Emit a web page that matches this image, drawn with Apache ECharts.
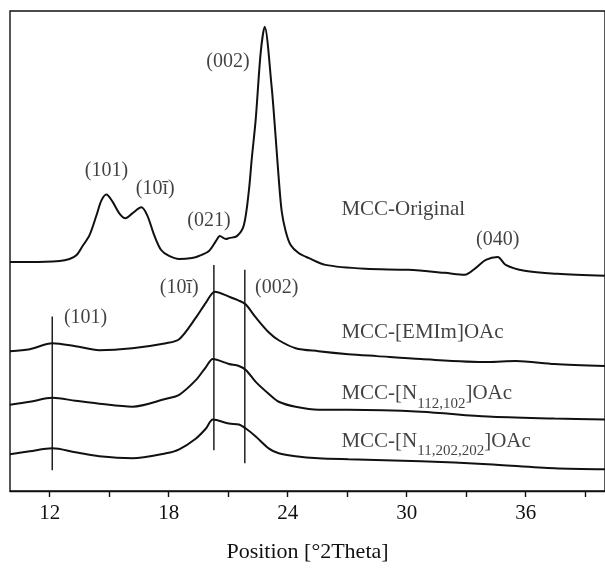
<!DOCTYPE html>
<html>
<head>
<meta charset="utf-8">
<script src="https://cdn.jsdelivr.net/npm/echarts@6/dist/echarts.min.js"></script>
<style>
  html, body { margin: 0; padding: 0; background: #fff; }
  #chart { width: 605px; height: 568px; }
</style>
</head>
<body>
<div id="chart"></div>
<script>
// 2theta positions and intensities (a.u., curves offset)
const origX = [10.0, 11.0, 12.5, 13.0, 13.36, 13.66, 14.01, 14.36, 14.61, 14.86, 15.16, 15.51, 15.82, 16.17, 16.62, 16.92, 17.27, 17.62, 18.02, 18.53, 19.18, 19.53, 20.03, 20.38, 20.58, 20.89, 21.04, 21.44, 21.79, 22.04, 22.19, 22.39, 22.64, 22.84, 23.19, 23.39, 23.55, 23.7, 23.9, 24.15, 24.55, 25.05, 25.9, 27.91, 30.07, 31.93, 32.93, 33.49, 33.99, 34.59, 34.99, 35.95, 37.6, 40.0];
const origY = [231, 231, 232, 234, 238, 247, 258, 278, 293, 299, 292, 280, 275, 280, 286, 278, 258, 243, 237, 234, 235, 237, 242, 252, 257, 254, 255, 257, 268, 302, 335, 375, 442, 468, 408, 358, 315, 282, 262, 248, 240, 235, 228, 224, 223, 220, 218, 225, 233, 236, 228, 222, 219, 217];

const emimX = [10.0, 11.0, 12.14, 13.3, 14.5, 16.17, 17.87, 18.53, 19.38, 19.88, 20.33, 21.04, 21.54, 21.89, 22.39, 23.04, 23.55, 24.4, 25.55, 27.06, 28.5, 30.72, 34.09, 35.5, 37.45, 40.0];
const emimY = [141, 143, 149, 146, 142, 144, 149, 153, 175, 190, 201, 196, 192, 188, 175, 160, 152, 144, 141, 138, 136, 133, 130, 131, 128, 126];

const n112X = [10.0, 11.0, 12.14, 13.3, 14.5, 16.17, 17.87, 18.53, 19.38, 19.88, 20.23, 21.04, 21.54, 21.89, 22.39, 23.04, 23.55, 24.4, 25.55, 27.06, 30.72, 34.09, 37.45, 40.0];
const n112Y = [87, 90, 94, 91, 88, 85, 93, 97, 112, 125, 133, 128, 126, 122, 110, 98, 90, 85, 82, 82, 80, 75, 73, 72];

const n11X = [10.0, 11.0, 12.14, 13.3, 14.5, 16.17, 17.87, 18.53, 19.38, 19.88, 20.23, 21.04, 21.54, 21.89, 22.39, 23.04, 23.55, 24.4, 25.55, 27.06, 30.72, 34.09, 37.45, 40.0];
const n11Y = [37, 40, 43, 39, 35, 33, 38, 42, 53, 63, 72, 68, 67, 63, 55, 43, 38, 35, 33, 32, 30, 27, 23, 22];

// reference lines: [2theta, lower, upper]
const refLines = [[12.13, 21, 176], [20.28, 41, 228], [21.84, 28, 223]];

const xLabels = [12, 18, 24, 30, 36];
const xTicks = [12, 15, 18, 21, 24, 27, 30, 33, 36, 39];

const peakNames = ['(002)', '(101)', '(10ī)', '(021)', '(040)', '(10ī)', '(002)', '(101)'];
const peakAt = [[20.99, 433], [14.86, 323], [17.32, 305], [20.03, 272], [34.59, 253], [18.53, 205], [23.45, 205], [13.81, 175]];

const sampleNames = ['MCC-Original', 'MCC-[EMIm]OAc', 'MCC-[N{s|112,102}]OAc', 'MCC-[N{s|11,202,202}]OAc'];
const sampleAt = [[26.71, 284], [26.71, 160], [26.71, 98], [26.71, 50]];

const zip = (xs, ys) => xs.map((x, i) => [x, ys[i]]);
const font = '"Liberation Serif", "Times New Roman", serif';
const ink = '#111';

const curve = (name, xs, ys) => ({
  name: name,
  type: 'line',
  data: zip(xs, ys),
  showSymbol: false,
  smooth: 0.3,
  lineStyle: { color: ink, width: 2 },
  silent: true
});

const series = [
  curve('MCC-Original', origX, origY),
  curve('MCC-[EMIm]OAc', emimX, emimY),
  curve('MCC-[N112,102]OAc', n112X, n112Y),
  curve('MCC-[N11,202,202]OAc', n11X, n11Y)
];

refLines.forEach((r) => {
  series.push({
    type: 'line',
    data: [[r[0], r[1]], [r[0], r[2]]],
    showSymbol: false,
    lineStyle: { color: ink, width: 1.4 },
    silent: true
  });
});

series.push({
  type: 'scatter',
  symbolSize: 0,
  data: peakAt.map((p, i) => ({ name: peakNames[i], value: p })),
  label: {
    show: true,
    position: 'inside',
    formatter: (p) => p.name,
    color: ink,
    fontFamily: font,
    fontSize: 20
  },
  silent: true
});

series.push({
  type: 'scatter',
  symbolSize: 0,
  data: sampleAt.map((p, i) => ({ name: sampleNames[i], value: p })),
  label: {
    show: true,
    position: 'right',
    distance: 0,
    formatter: (p) => p.name,
    color: ink,
    fontFamily: font,
    fontSize: 21,
    rich: {
      s: { fontFamily: font, fontSize: 15, color: ink, padding: [20, 0, 0, 0] }
    }
  },
  silent: true
});

const chart = echarts.init(document.getElementById('chart'));
chart.setOption({
  animation: false,
  backgroundColor: '#fff',
  grid: {
    left: 10, top: 11, right: -3, bottom: 73,
    show: true, borderColor: ink, borderWidth: 1.4
  },
  xAxis: {
    type: 'value',
    min: 10,
    max: 40,
    name: 'Position [°2Theta]',
    nameLocation: 'middle',
    nameGap: 50,
    nameTextStyle: { fontFamily: font, fontSize: 22, color: ink },
    axisLine: { lineStyle: { color: ink, width: 1.4 } },
    axisTick: { show: true, length: 6, customValues: xTicks, lineStyle: { color: ink, width: 1.4 } },
    axisLabel: { customValues: xLabels, fontFamily: font, fontSize: 21, color: ink, margin: 12 },
    splitLine: { show: false }
  },
  yAxis: {
    type: 'value',
    min: 0,
    max: 484,
    axisLine: { show: false },
    axisTick: { show: false },
    axisLabel: { show: false },
    splitLine: { show: false }
  },
  series: series
});
</script>
</body>
</html>
